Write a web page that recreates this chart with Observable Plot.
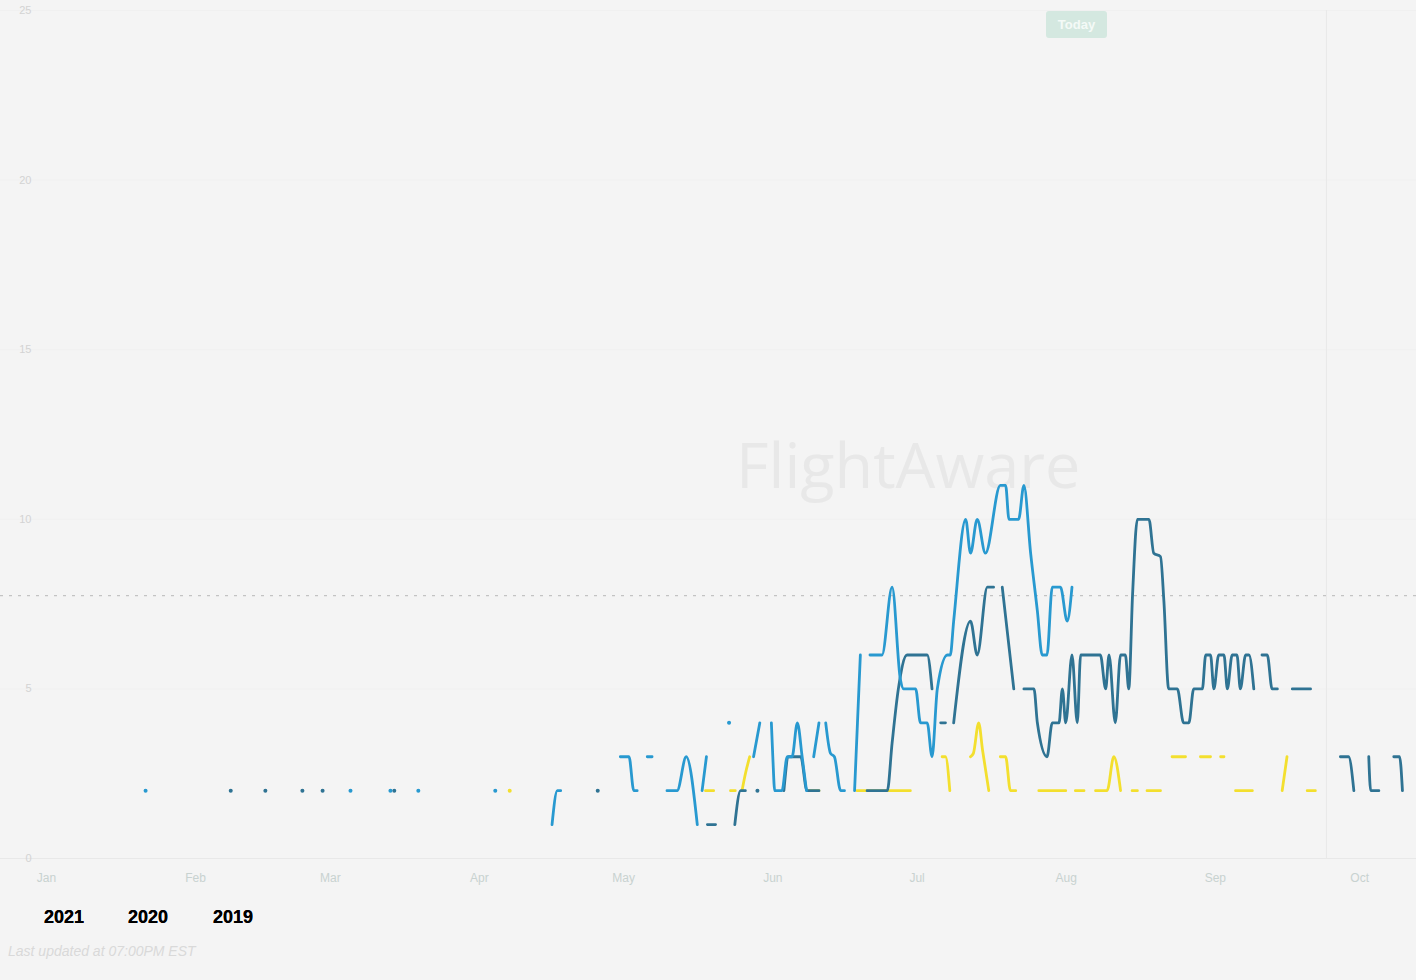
<!DOCTYPE html>
<html><head><meta charset="utf-8">
<script src="https://cdn.jsdelivr.net/npm/d3@7"></script>
<script src="https://cdn.jsdelivr.net/npm/@observablehq/plot@0.6"></script>
<style>
html,body{margin:0;padding:0;background:#f4f4f4;}
#wrap{position:relative;width:1416px;height:980px;overflow:hidden;font-family:"Liberation Sans",Arial,sans-serif;}
#chart{position:absolute;left:0;top:0;}
.wm{position:absolute;left:736px;top:421px;font-family:"Open Sans";font-size:63px;color:#e8e8e8;white-space:nowrap;}
.today{position:absolute;left:1046px;top:11px;width:61px;height:27px;background:#d4e8e0;border-radius:3px;color:#f4faf7;font-weight:bold;font-size:13px;line-height:27px;text-align:center;}
.legend span{position:absolute;top:907px;font-size:18px;font-weight:bold;color:#000;text-shadow:0 0 0.6px #000;}
.note{position:absolute;left:8px;top:943px;font-size:14px;font-style:italic;color:#d9d9d9;white-space:nowrap;}
</style></head>
<body>
<div id="wrap">
  <div class="wm">FlightAware</div>
  <div id="chart"></div>
  <div class="today">Today</div>
  <div class="legend" id="legend"></div>
  <div class="note">Last updated at 07:00PM EST</div>
</div>
<script>
// ---- data ----
const monthLabels = ["Jan","Feb","Mar","Apr","May","Jun","Jul","Aug","Sep","Oct"];
const monthStarts = [0,31,59,90,120,151,181,212,243,273]; // day of year
const yTicks = [0,5,10,15,20,25];
const seriesNames = ["2021","2020","2019"];
const seriesColors = ["#2899d0","#2f7393","#f3df2e"];
const averageValue = 7.75;
const todayDay = 266.1;

// [day of year, value]; null = gap
const s2021 = [
 [20.6,2], null, [63.2,2], null, [71.5,2], null, [77.3,2], null, [93.3,2], null,
 [105.1,1],[106.2,2],[106.9,2], null,
 [119.3,3],[121.1,3],[122.1,2],[122.8,2], null,
 [124.9,3],[125.9,3], null,
 [129.0,2],[131.1,2],[133.0,3],[135.3,1], null,
 [136.3,2],[137.2,3], null,
 [141.9,4], null,
 [147.0,3],[148.3,4], null,
 [150.7,4],[151.0,3],[151.4,2],[152.9,2],[154.0,3],[155.0,3],[156.1,4],[157.1,3],[158.0,2], null,
 [159.5,3],[160.6,4], null,
 [162.0,4],[163.0,3.1],[163.8,3],[165.1,2],[165.9,2], null,
 [168.0,2],[168.6,4],[169.2,6], null,
 [171.2,6],[173.7,6],[175.8,8],[177.5,5.3],[178.2,5],[180.7,5],[181.7,4],[183.1,4],[184.1,3],[185.2,5],
 [187.3,6],[187.9,6],[188.6,7],[191.1,10],[192.1,9],[193.5,10],[195.2,9],[198.3,11],[199.4,11],
 [200.1,10],[202.1,10],[203.2,11],[204.6,9],[206.0,7.3],[207.0,6],[208.0,6],[209.1,8],[210.8,8],
 [212.2,7],[213.2,8]
];
const s2020 = [
 [38.3,2], null, [45.5,2], null, [53.2,2], null, [57.4,2], null, [72.3,2], null, [114.6,2], null,
 [137.4,1],[139.1,1], null,
 [143.1,1],[144.3,2],[145.3,2], null,
 [147.8,2], null,
 [153.3,2],[154.3,3],[156.1,3],[156.8,3],[158.1,2],[160.6,2], null,
 [170.6,2],[174.8,2],[175.8,3.4],[177.1,5],[178.9,6],[183.1,6],[184.1,5], null,
 [185.9,4],[186.9,4], null,
 [188.6,4],[192.1,7],[193.5,6],[195.6,8],[196.9,8], null,
 [198.7,8],[201.1,5], null,
 [203.2,5],[205.3,5],[206.0,4],[208.0,3],[209.1,4],[210.5,4],[211.2,5],[211.9,4],[213.2,6],[214.3,4],
 [215.0,6],[219.1,6],[220.2,5],[220.9,6],[222.2,4],[223.3,6],[224.3,6],[225.0,5],[225.8,7.8],[226.8,10],
 [229.2,10],[230.2,9],[231.6,8.9],[232.3,7.6],[233.3,5],[235.1,5],[236.4,4],[237.5,4],[238.5,5],[240.3,5],
 [241.0,6],[242.0,6],[242.7,5],[243.7,6],[244.8,6],[245.5,5],[246.5,6],[247.5,6],[248.2,5],[249.3,6],
 [250.0,6],[251.0,5], null,
 [252.7,6],[253.8,6],[254.8,5],[255.9,5], null,
 [259.0,5],[262.8,5], null,
 [269.0,3],[270.7,3],[271.8,2], null,
 [274.9,3],[275.3,2],[277.0,2], null,
 [280.1,3],[281.3,3],[281.9,2]
];
const s2019 = [
 [96.3,2], null,
 [137.0,2],[138.7,2], null,
 [142.2,2],[143.2,2], null,
 [144.6,2],[145.3,2.5],[146.2,3], null,
 [158.5,2],[160.6,2], null,
 [168.5,2],[179.6,2], null,
 [186.2,3],[186.9,3],[187.8,2], null,
 [192.1,3],[192.7,3.1],[193.8,4],[194.6,3.2],[195.9,2], null,
 [198.3,3],[199.4,3],[200.4,2],[201.5,2], null,
 [206.3,2],[211.9,2], null,
 [213.9,2],[215.7,2], null,
 [218.1,2],[220.5,2],[221.9,3],[223.3,2], null,
 [225.7,2],[226.8,2], null,
 [228.8,2],[231.6,2], null,
 [234.0,3],[236.8,3], null,
 [239.9,3],[242.0,3], null,
 [244.1,3],[244.8,3], null,
 [247.2,2],[250.7,2], null,
 [256.9,2],[257.9,3], null,
 [262.1,2],[263.8,2]
];

function toRows(name, arr) {
  return arr.map(p => p === null ? {series: name, day: NaN, value: NaN} : {series: name, day: p[0], value: p[1]});
}
function isolated(name, arr) {
  const out = [];
  arr.forEach((p, i) => {
    if (p !== null && (i === 0 || arr[i-1] === null) && (i === arr.length - 1 || arr[i+1] === null))
      out.push({series: name, day: p[0], value: p[1]});
  });
  return out;
}
const seriesData = [s2021, s2020, s2019];
const lineMarks = [];
[2,1,0].forEach(i => {
  lineMarks.push(Plot.line(toRows(seriesNames[i], seriesData[i]), {
    x: "day", y: "value", stroke: seriesColors[i], strokeWidth: 2.8, curve: "monotone-x",
    strokeLinecap: "round", strokeLinejoin: "round"
  }));
  lineMarks.push(Plot.dot(isolated(seriesNames[i], seriesData[i]), {
    x: "day", y: "value", r: 2, fill: seriesColors[i], stroke: null
  }));
});

const chart = Plot.plot({
  width: 1416, height: 900,
  marginLeft: 0, marginRight: 0, marginTop: 10, marginBottom: 42,
  style: {background: "transparent", fontFamily: "Liberation Sans, Arial, sans-serif"},
  x: {domain: [-46/4.81, 1370/4.81]},
  y: {domain: [0, 25]},
  marks: [
    Plot.ruleY([0], {stroke: "#e8e8e8", strokeWidth: 1}),
    Plot.ruleY(yTicks.slice(1), {stroke: "#f0f0f0", strokeWidth: 1}),
    Plot.ruleX([todayDay], {stroke: "#e8e8e8", strokeWidth: 1}),
    Plot.ruleY([averageValue], {stroke: "#c3c3c3", strokeWidth: 1.2, strokeDasharray: "3,6"}),
    Plot.axisY(yTicks, {anchor: "left", tickSize: 0, tickPadding: 0, dx: 31, fill: "#d3d3d3", fontSize: 11, label: null}),
    Plot.axisX(monthStarts, {anchor: "bottom", tickSize: 0, tickPadding: 15, fill: "#c8d2d0", fontSize: 12,
      tickFormat: (d) => monthLabels[monthStarts.indexOf(d)], label: null}),
    ...lineMarks
  ]
});
document.getElementById("chart").appendChild(chart);

const legendLeft = [44, 128, 213];
const legend = document.getElementById("legend");
seriesNames.forEach((n, i) => {
  const s = document.createElement("span");
  s.textContent = n;
  s.style.left = legendLeft[i] + "px";
  legend.appendChild(s);
});
</script>
</body></html>
